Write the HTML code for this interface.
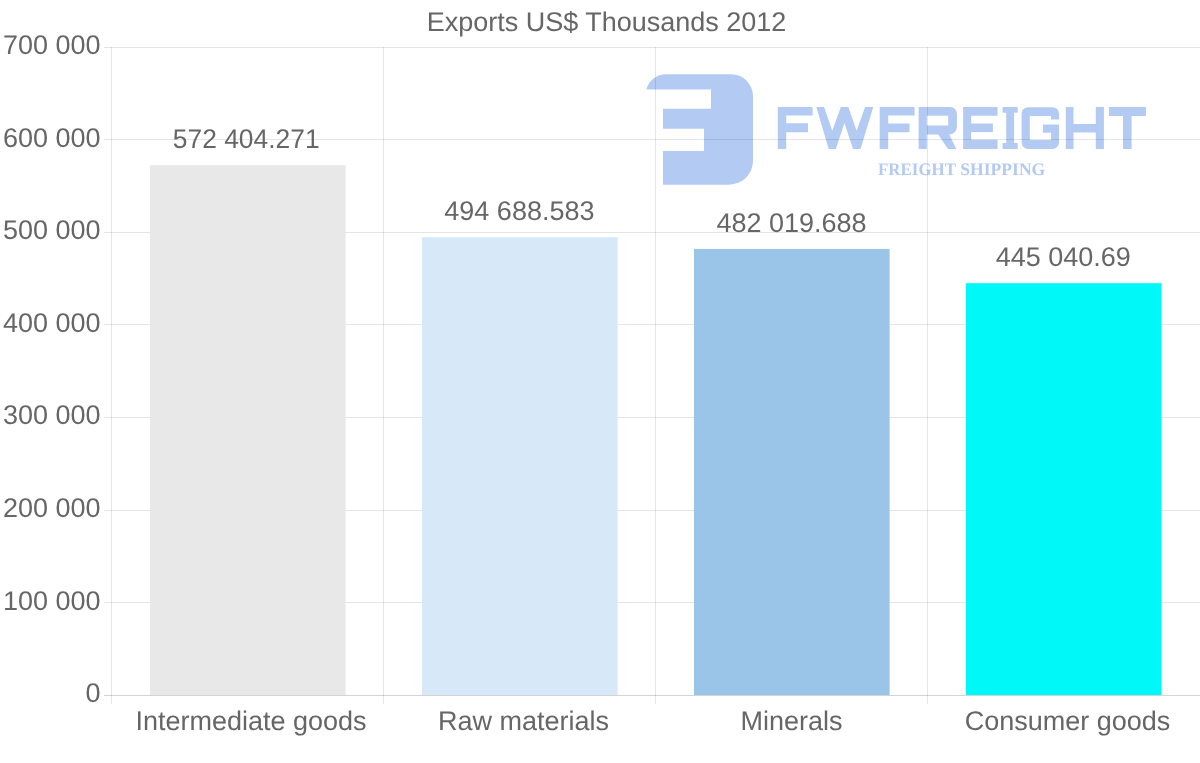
<!DOCTYPE html>
<html><head><meta charset="utf-8"><style>
html,body{margin:0;padding:0;background:#fff;width:1200px;height:763px;overflow:hidden}
svg{display:block;will-change:transform}
text{font-family:"Liberation Sans",sans-serif;fill:#666;text-rendering:geometricPrecision}
</style></head><body>
<svg width="1200" height="763" viewBox="0 0 1200 763">

<g fill="#b3cbf2"><path d="M646.3,89.5 A20.4,20.4 0 0 1 666,74.2 L731,74.2 A22,22 0 0 1 753,96.2 L753,160.7 A24,24 0 0 1 729,184.7 L663,184.7 L663,151 L704,151 L704,128.8 L663,128.8 L663,108.8 L711,108.8 L711,89.5 Z"/></g>
<g fill="#b3cbf2"><path fill-rule="evenodd" d="M777.8,107H812.6V115.4H786.2V123.2H808V132.3H786.2V149H777.8Z M816.3,107H824.1L832.3,130.8L840.8,107H848.4L856.6,130.8L865.1,107H873.3L860.5,149H853L844.4,123L835.9,149H828.7Z M879.7,107H914.6V115.4H888.2V123.4H909.5V132.2H888.2V149H879.7Z M918.6,107H950.4A6.5,6.5 0 0 1 956.9,113.5V127A7.6,7.6 0 0 1 949.3,134.5L956.3,149H948L938.2,134.5H926.8V149H918.6Z M926.8,115.8V125.6H948.2V115.8Z M963.1,107H997.6V115.8H971.2V123.5H992.9V132.1H971.2V139.8H997.6V149H963.1Z M1002.6,107H1017.7V112.8H1014.1V143H1017.7V149H1002.6V143H1006.2V112.8H1002.6Z M1028.1,107.2H1052.5A6.5,6.5 0 0 1 1059,113.7V119.4H1051.1V116.1H1029.8V139.9H1051.1V132.8H1042.9V124.6H1059V142.4A6.5,6.5 0 0 1 1052.5,148.9H1028.1A6.5,6.5 0 0 1 1021.6,142.4V113.7A6.5,6.5 0 0 1 1028.1,107.2Z M1065.8,107H1073.5V124H1095.8V107H1103.9V149H1095.8V132.5H1073.5V149H1065.8Z M1109,107H1145.9V115.9H1131.6V149H1123V115.9H1109Z"/></g>
<g fill="#b3cbf2" font-family="Liberation Serif" font-weight="bold" font-size="17.6"><text x="878" y="174.8" style="fill:#b3cbf2;font-family:'Liberation Serif',serif;font-weight:bold" textLength="78" lengthAdjust="spacingAndGlyphs">FREIGHT</text><text x="960.3" y="174.8" style="fill:#b3cbf2;font-family:'Liberation Serif',serif;font-weight:bold" textLength="85" lengthAdjust="spacingAndGlyphs">SHIPPING</text></g>
<line x1="104" y1="695.5" x2="1200" y2="695.5" stroke="rgba(0,0,0,0.17)" stroke-width="1"/>
<line x1="104" y1="602.5" x2="1200" y2="602.5" stroke="rgba(0,0,0,0.1)" stroke-width="1"/>
<line x1="104" y1="510.5" x2="1200" y2="510.5" stroke="rgba(0,0,0,0.1)" stroke-width="1"/>
<line x1="104" y1="417.5" x2="1200" y2="417.5" stroke="rgba(0,0,0,0.1)" stroke-width="1"/>
<line x1="104" y1="324.5" x2="1200" y2="324.5" stroke="rgba(0,0,0,0.1)" stroke-width="1"/>
<line x1="104" y1="232.5" x2="1200" y2="232.5" stroke="rgba(0,0,0,0.1)" stroke-width="1"/>
<line x1="104" y1="139.5" x2="1200" y2="139.5" stroke="rgba(0,0,0,0.1)" stroke-width="1"/>
<line x1="104" y1="47.5" x2="1200" y2="47.5" stroke="rgba(0,0,0,0.1)" stroke-width="1"/>
<line x1="111.5" y1="47" x2="111.5" y2="704" stroke="rgba(0,0,0,0.1)" stroke-width="1"/>
<line x1="383.5" y1="47" x2="383.5" y2="704" stroke="rgba(0,0,0,0.1)" stroke-width="1"/>
<line x1="655.5" y1="47" x2="655.5" y2="704" stroke="rgba(0,0,0,0.1)" stroke-width="1"/>
<line x1="927.5" y1="47" x2="927.5" y2="704" stroke="rgba(0,0,0,0.1)" stroke-width="1"/>
<rect x="150.00" y="165.24" width="195.60" height="529.76" fill="#e8e8e8"/>
<rect x="422.00" y="237.19" width="195.60" height="457.81" fill="#d7e8f9"/>
<rect x="694.00" y="248.92" width="195.60" height="446.08" fill="#9bc5e8"/>
<rect x="966.00" y="283.16" width="195.60" height="411.84" fill="#00f8f8"/>
<text x="100.5" y="702.1" font-size="27" text-anchor="end">0</text>
<text x="100.5" y="609.5" font-size="27" text-anchor="end">100 000</text>
<text x="100.5" y="516.9" font-size="27" text-anchor="end">200 000</text>
<text x="100.5" y="424.3" font-size="27" text-anchor="end">300 000</text>
<text x="100.5" y="331.8" font-size="27" text-anchor="end">400 000</text>
<text x="100.5" y="239.2" font-size="27" text-anchor="end">500 000</text>
<text x="100.5" y="146.6" font-size="27" text-anchor="end">600 000</text>
<text x="100.5" y="54.0" font-size="27" text-anchor="end">700 000</text>
<text x="251" y="730" font-size="27" text-anchor="middle">Intermediate goods</text>
<text x="523.5" y="730" font-size="27" text-anchor="middle">Raw materials</text>
<text x="791.5" y="730" font-size="27" text-anchor="middle">Minerals</text>
<text x="1067.5" y="730" font-size="27" text-anchor="middle">Consumer goods</text>
<text transform="translate(246.2,148.2) scale(0.978,1)" font-size="27" text-anchor="middle">572 404.271</text>
<text transform="translate(519.4,220.2) scale(1,1)" font-size="27" text-anchor="middle">494 688.583</text>
<text transform="translate(791.5,231.9) scale(1,1)" font-size="27" text-anchor="middle">482 019.688</text>
<text transform="translate(1063.2,266.2) scale(1,1)" font-size="27" text-anchor="middle">445 040.69</text>
<text x="606.5" y="30.8" font-size="27" text-anchor="middle">Exports US$ Thousands 2012</text>
</svg></body></html>
